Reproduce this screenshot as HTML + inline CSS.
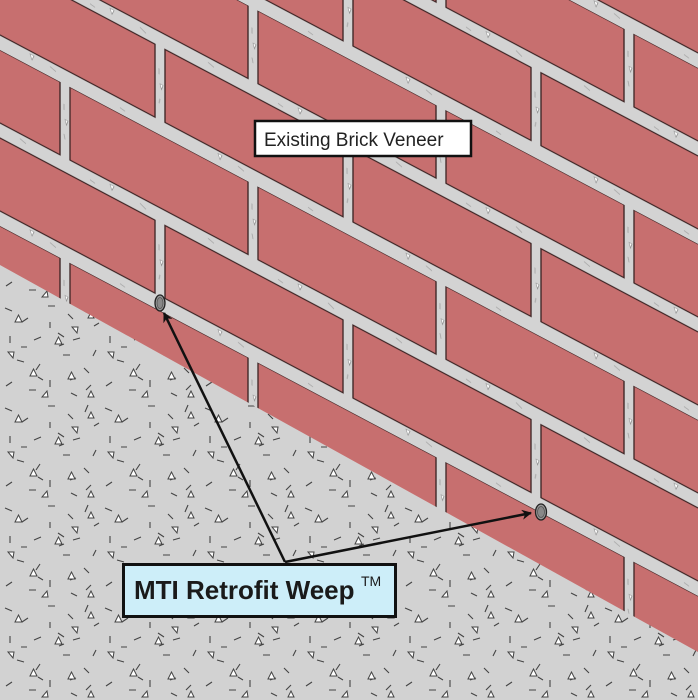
<!DOCTYPE html>
<html><head><style>html,body{margin:0;padding:0;background:#fff}svg{display:block}</style></head>
<body>
<svg width="698" height="700" viewBox="0 0 698 700" xmlns="http://www.w3.org/2000/svg">
<defs>
<pattern id="brick" patternUnits="userSpaceOnUse" x="0" y="50" width="188" height="176" patternTransform="matrix(1 0.53 0 1 0 0)">
<rect x="0" y="0" width="188" height="176" fill="#d3d3d3"/>
<g fill="#c76f6f" stroke="#3a2222" stroke-width="1.3">
<rect x="-118" y="0" width="178" height="73"/>
<rect x="70" y="0" width="178" height="73"/>
<rect x="-23" y="88" width="178" height="73"/>
<rect x="165" y="88" width="178" height="73"/>
</g>
<g stroke="#aaa" stroke-width="1" fill="none">
<path d="M20 78 l6 2 M90 82 l5 1 M140 79 l6 3 M50 166 l6 2 M120 170 l5 1 M64 20 l0 6 M64 50 l1 5 M159 110 l0 6 M160 140 l-1 5"/>
</g>
<g fill="#fff" stroke="#888" stroke-width="0.6">
<path d="M110 76 l4 0 l-2 5z M30 164 l4 0 l-2 5z M65 35 l3 0 l-1.5 5z M160 125 l3 0 l-1.5 5z"/>
</g>
</pattern>
<pattern id="ground" patternUnits="userSpaceOnUse" width="100" height="100">
<rect width="100" height="100" fill="#d2d2d2"/>
<g stroke="#444" stroke-width="1.1" fill="none">
<path d="M5 8 l7 3 M28 18 l-6 4 M48 6 l7 0 M68 14 l5 5 M88 5 l-3 7 M10 36 l0 7 M34 40 l7 -3 M58 33 l6 4 M80 38 l-7 2 M94 26 l5 -3 M17 60 l7 2 M40 64 l-4 6 M63 55 l7 0 M84 68 l5 5 M6 86 l6 -4 M29 90 l7 0 M50 80 l0 7 M71 93 l6 3 M91 85 l-5 5 M50 22 l0 6 M21 47 l6 0 M76 78 l-6 2 M96 50 l-3 6 M38 77 l5 3 M64 44 l-5 2"/>
</g>
<g fill="#fff" stroke="#444" stroke-width="1">
<path d="M15 22 l7 0 l-3.5 -7z M55 44 l7 0 l-3.5 -7z M88 18 l6 0 l-3 -6z M30 76 l7 0 l-3.5 -7z M72 27 l6 0 l-1 6z M8 52 l6 0 l-1 6z M68 79 l7 0 l-3.5 -7z M94 97 l-6 0 l3 -6z M42 97 l6 0 l-1 -6z"/>
</g>
</pattern>
<marker id="ah" markerWidth="10" markerHeight="10" refX="9" refY="5" orient="auto" markerUnits="userSpaceOnUse" viewBox="0 0 10 10">
<path d="M0 0 L10 5 L0 10 L3 5z" fill="#111"/>
</marker>
</defs>
<rect width="698" height="700" fill="url(#brick)"/>
<polygon points="0,265 698,652 698,700 0,700" fill="url(#ground)"/>
<ellipse cx="160" cy="303" rx="5" ry="8" fill="#999" stroke="#222" stroke-width="1.3"/>
<ellipse cx="160" cy="303" rx="3" ry="5.5" fill="#888" stroke="#555" stroke-width="0.8"/>
<ellipse cx="541" cy="512" rx="5.5" ry="8" fill="#999" stroke="#222" stroke-width="1.3"/>
<ellipse cx="541" cy="512" rx="3.5" ry="5.5" fill="#888" stroke="#555" stroke-width="0.8"/>
<line x1="285" y1="562" x2="164" y2="313" stroke="#111" stroke-width="2.5" marker-end="url(#ah)"/>
<line x1="285" y1="562" x2="531" y2="513" stroke="#111" stroke-width="2.5" marker-end="url(#ah)"/>
<rect x="255" y="121" width="216" height="35" fill="#fff" stroke="#111" stroke-width="2.5"/>
<text x="264" y="146" font-family="Liberation Sans, sans-serif" font-size="19" fill="#222">Existing Brick Veneer</text>
<rect x="123.5" y="564.5" width="272" height="52" fill="#cdeef9" stroke="#111" stroke-width="3"/>
<text x="134" y="599" font-family="Liberation Sans, sans-serif" font-size="26" font-weight="bold" fill="#1a1a1a">MTI Retrofit Weep</text>
<text x="361" y="586" font-family="Liberation Sans, sans-serif" font-size="14" fill="#1a1a1a">TM</text>
</svg>
</body></html>
